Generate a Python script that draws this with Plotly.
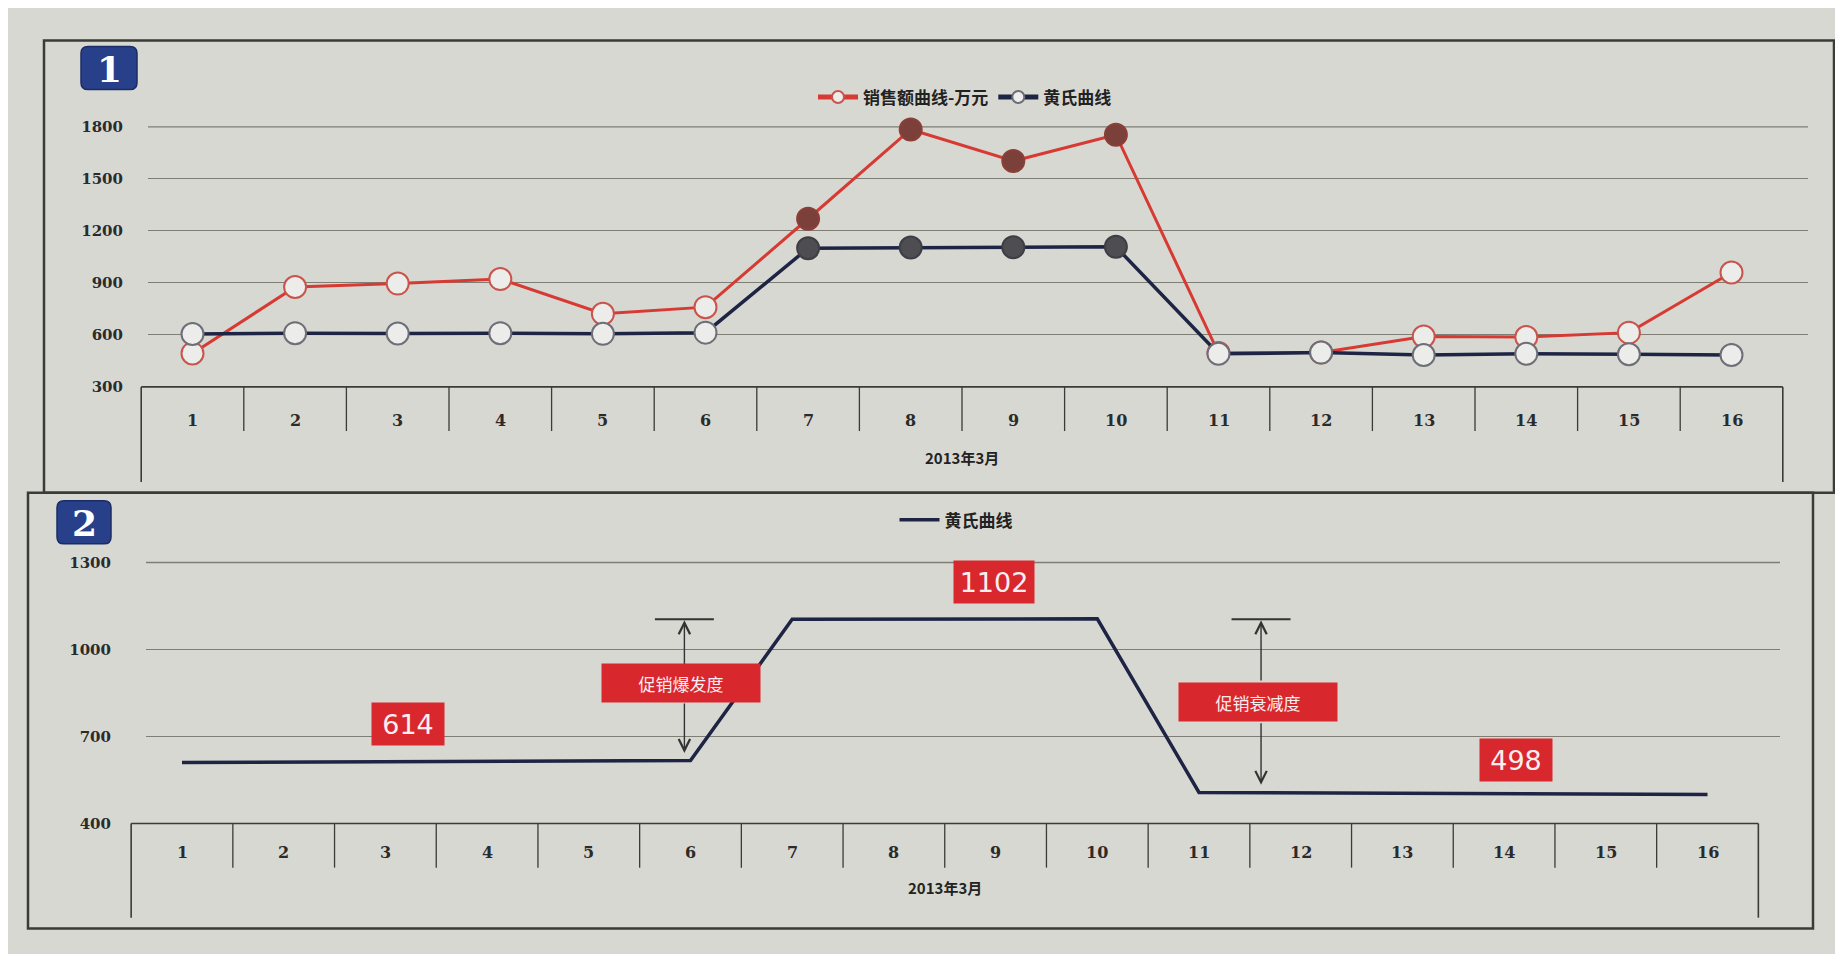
import plotly.graph_objects as go

W, H = 1843, 954

# ---------------- data ----------------
days = list(range(1, 17))
day_labels = [str(d) for d in days]
sales = [493, 876, 896, 922, 722, 760, 1270, 1785, 1603, 1755, 495, 498, 591, 588, 613, 960]
huang = [605, 610, 608, 610, 606, 613, 1100, 1104, 1106, 1108, 491, 498, 484, 491, 488, 484]
promo_days = [7, 8, 9, 10]

huang_break_days = [1, 6, 7, 10, 11, 16]
huang_smooth = [610, 617, 1104, 1106, 507, 500]

level_labels = ["614", "1102", "498"]
level_days = [3.22, 8.98, 14.12]
level_vals = [744, 1232, 618]

y1_ticks = [300, 600, 900, 1200, 1500, 1800]
y2_ticks = [400, 700, 1000, 1300]
month_label = "2013年3月"
sales_name = "销售额曲线-万元"
huang_name = "黄氏曲线"
burst_label = "促销爆发度"
decay_label = "促销衰减度"

# ---------------- layout constants (pixels) ----------------
P1 = dict(cat1=184.5, step=102.6, xl=140, xr=1800, y_lo=377, y_hi=112)
P2 = dict(cat1=174.0, step=101.7, xl=138, xr=1772, y_lo=822, y_hi=556)

BG = "#d8d8d2"
GRID = "#7e7e75"
FRAME = "#3b3b37"
RED = "#d63a33"
NAVY = "#1e2444"
BOXRED = "#d9272e"
BADGE = "#28408a"

def fx(px):
    return px / W

def fy(py):
    return 1 - py / H

def cat_px(P, v):
    return P["cat1"] + (v - 1) * P["step"]

def xr(P):
    return [1 + (P["xl"] - P["cat1"]) / P["step"], 1 + (P["xr"] - P["cat1"]) / P["step"]]

def open_or_filled(fill_open, fill_solid):
    return [fill_solid if d in promo_days else fill_open for d in days]

fig = go.Figure()

# ---------- chart 1 ----------
fig.add_trace(go.Scatter(
    x=days, y=sales, name=sales_name, mode="lines+markers",
    line=dict(color=RED, width=3),
    marker=dict(size=22, color=open_or_filled("#ececea", "#7b4039"),
                line=dict(color=open_or_filled("#c9544c", "#8a3f38"), width=2)),
    cliponaxis=False, xaxis="x", yaxis="y", legend="legend"))
fig.add_trace(go.Scatter(
    x=days, y=huang, name=huang_name, mode="lines+markers",
    line=dict(color=NAVY, width=3.5),
    marker=dict(size=22, color=open_or_filled("#ececea", "#4d4d52"),
                line=dict(color=open_or_filled("#6e6e78", "#3e3e44"), width=2)),
    cliponaxis=False, xaxis="x", yaxis="y", legend="legend"))

# ---------- chart 2 ----------
fig.add_trace(go.Scatter(
    x=huang_break_days, y=huang_smooth, name=huang_name, mode="lines",
    line=dict(color=NAVY, width=3.5), cliponaxis=False,
    xaxis="x2", yaxis="y2", legend="legend2"))

tickfont = dict(family="DejaVu Serif", size=15, color="#2b2b2b", weight="bold")
cjk_bold = dict(family="Noto Sans CJK SC", size=15, color="#222222", weight="bold")
legend_font = dict(family="Noto Sans CJK SC", size=17, color="#222222", weight="bold")

shapes = []
annotations = []

def frame_rect(x0, y0, x1, y1):
    shapes.append(dict(type="rect", xref="paper", yref="paper",
                       x0=fx(x0), x1=fx(x1), y0=fy(y1), y1=fy(y0),
                       line=dict(color=FRAME, width=2.5), fillcolor="rgba(0,0,0,0)", layer="below"))

frame_rect(36, 24, 1826, 485)
frame_rect(20, 485, 1805, 929)

# top gridlines (at the upper end of each value range)
for P in (P1, P2):
    shapes.append(dict(type="line", xref="paper", yref="paper", x0=fx(P["xl"]), x1=fx(P["xr"]),
                       y0=fy(P["y_hi"]), y1=fy(P["y_hi"]), line=dict(color=GRID, width=1.4),
                       layer="below"))

def badge(x0, y0, x1, y1, label):
    r = 7
    X0, X1, Y0, Y1 = x0, x1, y0, y1
    pts = (f"M {fx(X0 + r)},{fy(Y0)} L {fx(X1 - r)},{fy(Y0)} Q {fx(X1)},{fy(Y0)} {fx(X1)},{fy(Y0 + r)} "
           f"L {fx(X1)},{fy(Y1 - r)} Q {fx(X1)},{fy(Y1)} {fx(X1 - r)},{fy(Y1)} "
           f"L {fx(X0 + r)},{fy(Y1)} Q {fx(X0)},{fy(Y1)} {fx(X0)},{fy(Y1 - r)} "
           f"L {fx(X0)},{fy(Y0 + r)} Q {fx(X0)},{fy(Y0)} {fx(X0 + r)},{fy(Y0)} Z")
    shapes.append(dict(type="path", xref="paper", yref="paper", path=pts,
                       fillcolor=BADGE, line=dict(color="#1b2c66", width=1.5)))
    annotations.append(dict(xref="paper", yref="paper", x=fx((x0 + x1) / 2), y=fy((y0 + y1) / 2 + 1),
                            text=label, showarrow=False, xanchor="center", yanchor="middle",
                            font=dict(family="DejaVu Serif", size=36, color="white", weight="bold")))

badge(73, 30, 129, 74, "1")
badge(49, 493, 103, 537, "2")

def category_box(P, xref, y_top, y_bot, y_div, y_lab, y_title):
    xl = cat_px(P, 0.5)
    xrr = cat_px(P, 16.5)
    line = dict(color=FRAME, width=1.6)
    shapes.append(dict(type="line", xref="paper", yref="paper", x0=fx(xl), x1=fx(xrr),
                       y0=fy(y_top), y1=fy(y_top), line=line))
    for xx in (xl, xrr):
        shapes.append(dict(type="line", xref="paper", yref="paper", x0=fx(xx), x1=fx(xx),
                           y0=fy(y_top), y1=fy(y_bot), line=line))
    for k in days[:-1]:
        xx = cat_px(P, k + 0.5)
        shapes.append(dict(type="line", xref="paper", yref="paper", x0=fx(xx), x1=fx(xx),
                           y0=fy(y_top), y1=fy(y_div), line=dict(color=FRAME, width=1.3)))
    for d, lab in zip(days, day_labels):
        annotations.append(dict(xref=xref, yref="paper", x=d, y=fy(y_lab), text=lab,
                                showarrow=False, xanchor="center", yanchor="middle",
                                font=dict(family="DejaVu Serif", size=16, color="#2b2b2b", weight="bold")))
    annotations.append(dict(xref=xref, yref="paper", x=8.5, y=fy(y_title), text=month_label,
                            showarrow=False, xanchor="center", yanchor="middle", font=cjk_bold))

category_box(P1, "x", P1["y_lo"], 474, 422, 411, 449)
category_box(P2, "x2", P2["y_lo"], 918, 867, 852, 887)

# chart 2 red value boxes
for lab, d, v in zip(level_labels, level_days, level_vals):
    annotations.append(dict(xref="x2", yref="y2", x=d, y=v, text=lab, showarrow=False,
                            xanchor="center", yanchor="middle", bgcolor=BOXRED,
                            width=80 if len(lab) > 3 else 72, height=42, borderpad=0,
                            font=dict(family="DejaVu Sans", size=27, color="#fbeeee")))

# promo burst / decay markers
burst_x, decay_x = 5.94, 11.61
top_level = 1104
for x_c, lab, box_y, box_top, box_bot, low_tip in (
        (burst_x, burst_label, 884, 945, 819, 640),
        (decay_x, decay_label, 819, 888, 751, 530)):
    shapes.append(dict(type="line", xref="x2", yref="y2", x0=x_c - 0.29, x1=x_c + 0.29,
                       y0=top_level, y1=top_level, line=dict(color="#333333", width=2)))
    annotations.append(dict(xref="x2", yref="y2", axref="x2", ayref="y2", x=x_c, y=top_level,
                            ax=x_c, ay=box_top, text="", showarrow=True, arrowhead=5,
                            arrowsize=1.6, arrowwidth=1.4, arrowcolor="#333333", standoff=1))
    annotations.append(dict(xref="x2", yref="y2", axref="x2", ayref="y2", x=x_c, y=low_tip,
                            ax=x_c, ay=box_bot, text="", showarrow=True, arrowhead=5,
                            arrowsize=1.6, arrowwidth=1.4, arrowcolor="#333333", standoff=1))
    annotations.append(dict(xref="x2", yref="y2", x=x_c - 0.03, y=box_y, text=lab, showarrow=False,
                            xanchor="center", yanchor="middle", bgcolor=BOXRED, width=158, height=38,
                            borderpad=0,
                            font=dict(family="Noto Sans CJK SC", size=17, color="#fbeeee")))

fig.update_layout(
    width=W, height=H, autosize=False,
    margin=dict(l=0, r=0, t=0, b=0),
    paper_bgcolor=BG, plot_bgcolor="rgba(0,0,0,0)",
    showlegend=True,
    xaxis=dict(domain=[fx(P1["xl"]), fx(P1["xr"])], range=xr(P1), visible=False, anchor="y"),
    yaxis=dict(domain=[fy(P1["y_lo"]), fy(P1["y_hi"])], range=[300, 1800], tickvals=y1_ticks,
               showgrid=True, gridcolor=GRID, gridwidth=1.4, zeroline=False, showline=False,
               ticks="", ticklabelstandoff=24, tickfont=tickfont, anchor="x"),
    xaxis2=dict(domain=[fx(P2["xl"]), fx(P2["xr"])], range=xr(P2), visible=False, anchor="y2"),
    yaxis2=dict(domain=[fy(P2["y_lo"]), fy(P2["y_hi"])], range=[400, 1300], tickvals=y2_ticks,
                showgrid=True, gridcolor=GRID, gridwidth=1.4, zeroline=False, showline=False,
                ticks="", ticklabelstandoff=34, tickfont=tickfont, anchor="x2"),
    legend=dict(x=fx(957), y=fy(82), xanchor="center", yanchor="middle", orientation="h",
                bgcolor="rgba(0,0,0,0)", font=legend_font, itemsizing="constant", itemwidth=40,
                tracegroupgap=20),
    legend2=dict(x=fx(948), y=fy(513), xanchor="center", yanchor="middle", orientation="h",
                 bgcolor="rgba(0,0,0,0)", font=legend_font, itemwidth=40),
    shapes=shapes,
    annotations=annotations,
    hovermode=False,
)

fig.write_html("out.html")
